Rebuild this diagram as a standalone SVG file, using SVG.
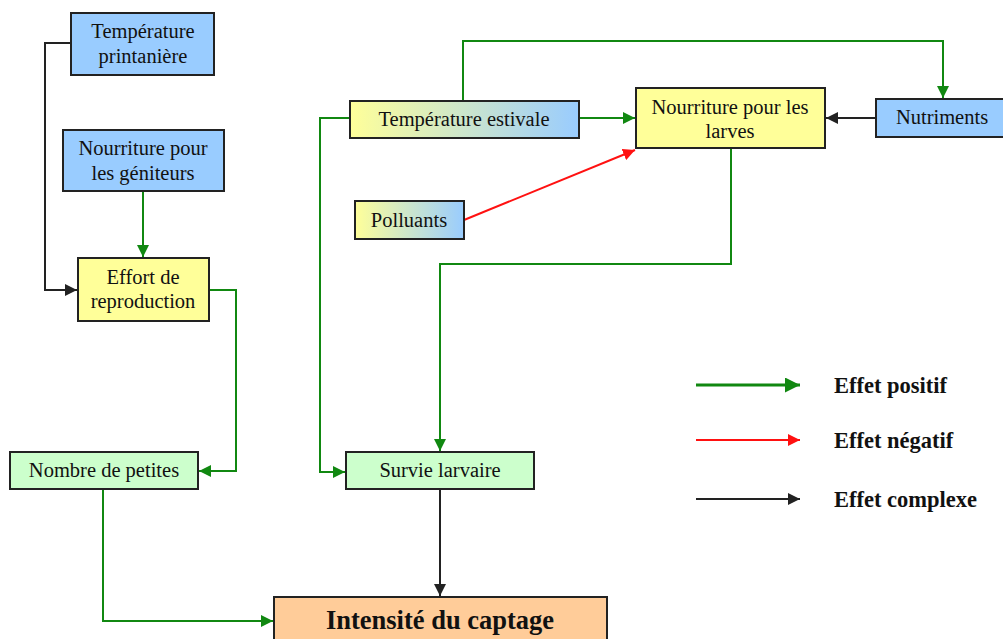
<svg xmlns="http://www.w3.org/2000/svg" width="1003" height="639" viewBox="0 0 1003 639">
<style>
.box{stroke:#222;stroke-width:2}
.blue{fill:#99ccff}
.yellow{fill:#ffff99}
.lgreen{fill:#ccffcc}
.orange{fill:#ffcc99}
text{font-family:"Liberation Serif","Times New Roman",serif;font-size:20.5px;fill:#111;text-anchor:middle}
.big{font-size:26.5px;font-weight:bold}
.leg{font-size:22.5px;font-weight:bold;text-anchor:start}
.g{stroke:#118811;stroke-width:2;fill:none}
.r{stroke:#ff1111;stroke-width:2;fill:none}
.k{stroke:#222;stroke-width:2;fill:none}
.g3{stroke:#118811;stroke-width:3;fill:none}
</style>
<defs>
<linearGradient id="yb" x1="0" x2="1" y1="0" y2="0">
<stop offset="0" stop-color="#ffff99"/>
<stop offset="1" stop-color="#99ccff"/>
</linearGradient>
<marker id="ag" viewBox="0 0 10 10" refX="10" refY="5" markerWidth="6" markerHeight="6" markerUnits="strokeWidth" orient="auto"><path d="M0,0 L10,5 L0,10 z" fill="#118811"/></marker>
<marker id="ag3" viewBox="0 0 10 10" refX="10" refY="5" markerWidth="5" markerHeight="5" markerUnits="strokeWidth" orient="auto"><path d="M0,0 L10,5 L0,10 z" fill="#118811"/></marker>
<marker id="ar" viewBox="0 0 10 10" refX="10" refY="5" markerWidth="6" markerHeight="6" markerUnits="strokeWidth" orient="auto"><path d="M0,0 L10,5 L0,10 z" fill="#ff1111"/></marker>
<marker id="ak" viewBox="0 0 10 10" refX="10" refY="5" markerWidth="6" markerHeight="6" markerUnits="strokeWidth" orient="auto"><path d="M0,0 L10,5 L0,10 z" fill="#222"/></marker>
</defs>

<g id="connectors">
<path class="k" d="M71,43 H45 V290 H77" marker-end="url(#ak)"/>
<path class="g" d="M143,191 V257" marker-end="url(#ag)"/>
<path class="g" d="M209,290 H236 V471 H199" marker-end="url(#ag)"/>
<path class="g" d="M103,489 V621 H273" marker-end="url(#ag)"/>
<path class="g" d="M350,118 H320 V472 H345" marker-end="url(#ag)"/>
<path class="g" d="M463,101 V41 H943 V98" marker-end="url(#ag)"/>
<path class="g" d="M579,118 H635" marker-end="url(#ag)"/>
<path class="r" d="M464,220 L635,150" marker-end="url(#ar)"/>
<path class="k" d="M876,118 H826" marker-end="url(#ak)"/>
<path class="g" d="M731,148 V264 H440 V451" marker-end="url(#ag)"/>
<path class="k" d="M440,489 V596" marker-end="url(#ak)"/>
</g>

<g id="temp-printaniere">
<rect class="box blue" x="71" y="13" width="143" height="62"/>
<text x="143" y="38">Température</text>
<text x="143" y="63">printanière</text>
</g>
<g id="nourriture-geniteurs">
<rect class="box blue" x="63" y="130" width="161" height="61"/>
<text x="143" y="155">Nourriture pour</text>
<text x="143" y="180">les géniteurs</text>
</g>
<g id="effort-reproduction">
<rect class="box yellow" x="78" y="258" width="131" height="63"/>
<text x="143" y="284">Effort de</text>
<text x="143" y="308">reproduction</text>
</g>
<g id="nombre-petites">
<rect class="box lgreen" x="10" y="452" width="188" height="37"/>
<text x="104" y="477">Nombre de petites</text>
</g>
<g id="temp-estivale">
<rect class="box" fill="url(#yb)" x="350" y="101" width="229" height="37"/>
<text x="464" y="126">Température estivale</text>
</g>
<g id="polluants">
<rect class="box" fill="url(#yb)" x="355" y="201" width="109" height="38"/>
<text x="409" y="227">Polluants</text>
</g>
<g id="nourriture-larves">
<rect class="box yellow" x="636" y="88" width="189" height="60"/>
<text x="730" y="114">Nourriture pour les</text>
<text x="730" y="138">larves</text>
</g>
<g id="nutriments">
<rect class="box blue" x="876" y="99" width="130" height="38"/>
<text x="942" y="124">Nutriments</text>
</g>
<g id="survie-larvaire">
<rect class="box lgreen" x="346" y="452" width="188" height="37"/>
<text x="440" y="477">Survie larvaire</text>
</g>
<g id="intensite-captage">
<rect class="box orange" x="274" y="597" width="333" height="50"/>
<text class="big" x="440" y="629">Intensité du captage</text>
</g>

<g id="legend">
<path class="g3" d="M696,385 H800" marker-end="url(#ag3)"/>
<path class="r" d="M696,440 H800" marker-end="url(#ar)"/>
<path class="k" d="M696,499 H800" marker-end="url(#ak)"/>
<text class="leg" x="834" y="393">Effet positif</text>
<text class="leg" x="834" y="448">Effet négatif</text>
<text class="leg" x="834" y="507">Effet complexe</text>
</g>
</svg>
